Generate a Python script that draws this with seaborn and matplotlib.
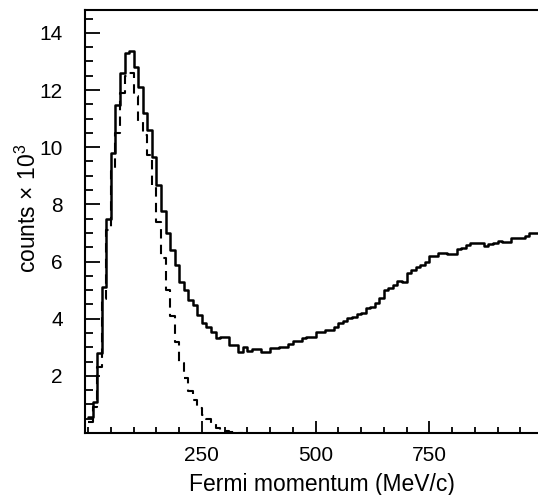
import numpy as np
import pandas as pd
import matplotlib
matplotlib.use("Agg")
import matplotlib.pyplot as plt
import seaborn as sns
from matplotlib.ticker import MultipleLocator, FixedLocator

# Histogram binning (MeV/c)
bin_width = 10
p_max = 1000

# Counts (x 10^3) per 10 MeV/c bin, full spectrum
counts_total = [
    0.55, 1.10, 2.79, 5.10, 7.50, 9.80, 11.48, 12.59, 13.29, 13.35,
    12.82, 12.12, 11.19, 10.60, 9.67, 8.68, 7.75, 6.99, 6.41, 5.88,
    5.27, 5.00, 4.66, 4.48, 4.13, 3.84, 3.72, 3.55, 3.31, 3.37,
    3.37, 3.08, 3.08, 2.85, 3.02, 2.88, 2.93, 2.93, 2.85, 2.85,
    2.96, 2.96, 3.02, 3.02, 3.13, 3.23, 3.23, 3.31, 3.37, 3.37,
    3.55, 3.55, 3.60, 3.60, 3.72, 3.84, 3.93, 4.01, 4.07, 4.15,
    4.21, 4.36, 4.42, 4.56, 4.71, 5.00, 5.09, 5.18, 5.33, 5.27,
    5.61, 5.70, 5.82, 5.88, 6.00, 6.19, 6.19, 6.31, 6.31, 6.27,
    6.27, 6.45, 6.49, 6.58, 6.64, 6.64, 6.64, 6.56, 6.60, 6.64,
    6.73, 6.67, 6.67, 6.81, 6.81, 6.81, 6.89, 6.99, 6.99, 6.99,
]

# Quasi-free (Fermi) component, first 34 bins; zero above
counts_fermi = [
    0.40, 0.90, 2.30, 4.70, 7.10, 9.15, 10.50, 11.90, 12.50, 12.60,
    11.80, 10.90, 10.43, 9.73, 8.60, 7.40, 6.11, 5.00, 4.10, 3.20,
    2.45, 1.93, 1.47, 1.15, 0.86, 0.62, 0.50, 0.30, 0.16, 0.10,
    0.06, 0.04, 0.03, 0.00,
]

x_ticks = [250, 500, 750]
y_ticks = [2, 4, 6, 8, 10, 12, 14]

centers = np.arange(len(counts_total)) * bin_width + bin_width / 2
df_total = pd.DataFrame({"p": centers, "w": counts_total})
n_f = len(counts_fermi)
df_fermi = pd.DataFrame({"p": centers[:n_f], "w": counts_fermi})

sns.set_theme(style="white")
plt.rcParams["font.family"] = ["Liberation Sans", "DejaVu Sans"]
plt.rcParams["mathtext.fontset"] = "custom"
plt.rcParams["mathtext.rm"] = "Liberation Sans"

fig = plt.figure(figsize=(5.38, 4.95), dpi=100)
ax = fig.add_axes([85 / 538, 62 / 495, 453 / 538, 423 / 495])

sns.histplot(data=df_total, x="p", weights="w", binwidth=bin_width,
             binrange=(0, p_max), element="step", fill=False,
             color="black", linewidth=1.8, ax=ax)
sns.histplot(data=df_fermi, x="p", weights="w", binwidth=bin_width,
             binrange=(0, n_f * bin_width), element="step", fill=False,
             color="black", linewidth=1.5, linestyle=(0, (4.5, 3)), ax=ax)

ax.set_xlim(-7, 989)
ax.set_ylim(0, 14.8)

ax.xaxis.set_major_locator(FixedLocator(x_ticks))
ax.xaxis.set_minor_locator(MultipleLocator(50))
ax.yaxis.set_major_locator(FixedLocator(y_ticks))
ax.yaxis.set_minor_locator(MultipleLocator(0.5))

ax.tick_params(axis="both", which="both", direction="in", color="black",
               width=1.3, labelsize=15, labelcolor="black",
               bottom=True, left=True, top=False, right=False)
ax.tick_params(axis="x", which="major", length=9, pad=9.5)
ax.tick_params(axis="x", which="minor", length=4)
ax.tick_params(axis="y", which="major", length=11, pad=16)
ax.tick_params(axis="y", which="minor", length=6)

for side in ["left", "top", "bottom"]:
    ax.spines[side].set_visible(True)
    ax.spines[side].set_color("black")
    ax.spines[side].set_linewidth(1.5)
ax.spines["right"].set_visible(False)

ax.set_xlabel("Fermi momentum (MeV/c)", fontsize=16.5, color="black")
ax.set_ylabel("counts \u00d7 10$\\mathregular{^3}$", fontsize=16.5,
              color="black")
ax.xaxis.set_label_coords(0.523, -0.095)
ax.yaxis.set_label_coords(-0.097, 0.53)

fig.savefig("out.png", dpi=100)
